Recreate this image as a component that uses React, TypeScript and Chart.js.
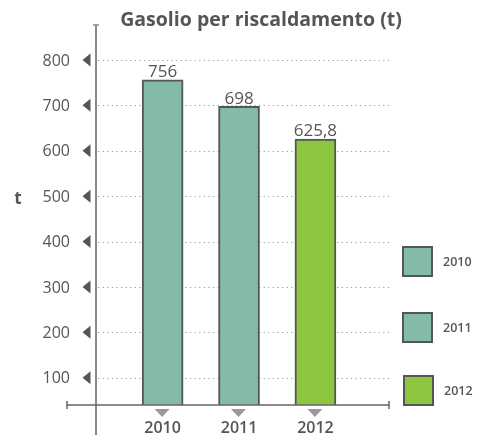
import React, { useEffect, useRef } from "react";
import { Chart, registerables } from "chart.js";

Chart.register(...registerables);

const TITLE = "Gasolio per riscaldamento (t)";
const Y_TITLE = "t";
const YEARS = ["2010", "2011", "2012"];
const VALUES = [756, 698, 625.8];
const VALUE_LABELS = ["756", "698", "625,8"];
const BAR_COLORS = ["#84bba6", "#84bba6", "#8cc63f"];
const Y_TICKS = [100, 200, 300, 400, 500, 600, 700, 800];

const FONT = "'Open Sans', sans-serif";
const TEXT = "#555555";

const decorPlugin = {
  id: "decor",
  beforeDatasetsDraw(chart: any) {
    const { ctx, chartArea, scales } = chart;
    const y = scales.y;
    ctx.save();
    ctx.strokeStyle = "#9a9a9a";
    ctx.lineWidth = 1;
    ctx.setLineDash([1.2, 3.4]);
    for (const t of Y_TICKS) {
      const py = Math.round(y.getPixelForValue(t)) + 0.5;
      ctx.beginPath();
      ctx.moveTo(chartArea.left + 2, py);
      ctx.lineTo(chartArea.right, py);
      ctx.stroke();
    }
    ctx.restore();
  },
  afterDatasetsDraw(chart: any) {
    const { ctx, chartArea, scales } = chart;
    const x = scales.x;
    const y = scales.y;
    ctx.save();
    // y axis line
    ctx.strokeStyle = "#8a8a8a";
    ctx.lineWidth = 2;
    ctx.beginPath();
    ctx.moveTo(chartArea.left, chartArea.top);
    ctx.lineTo(chartArea.left, chart.height);
    ctx.stroke();
    ctx.lineWidth = 1.5;
    ctx.beginPath();
    ctx.moveTo(chartArea.left - 3, chartArea.top);
    ctx.lineTo(chartArea.left + 3, chartArea.top);
    ctx.stroke();
    // x axis line
    const by = y.getPixelForValue(y.min);
    ctx.strokeStyle = "#666666";
    ctx.lineWidth = 1.5;
    ctx.beginPath();
    ctx.moveTo(67, by);
    ctx.lineTo(chartArea.right - 1, by);
    ctx.moveTo(67, by - 4);
    ctx.lineTo(67, by + 4);
    ctx.moveTo(chartArea.right - 1, by - 4);
    ctx.lineTo(chartArea.right - 1, by + 4);
    ctx.stroke();

    // y tick labels and left-pointing triangles
    ctx.fillStyle = TEXT;
    ctx.font = `16px ${FONT}`;
    ctx.textAlign = "right";
    ctx.textBaseline = "middle";
    for (const t of Y_TICKS) {
      const py = y.getPixelForValue(t);
      ctx.fillText(String(t), 70, py + 1);
      ctx.beginPath();
      ctx.moveTo(82.5, py);
      ctx.lineTo(90.5, py - 6.5);
      ctx.lineTo(90.5, py + 6.5);
      ctx.closePath();
      ctx.fill();
    }

    // y title
    ctx.font = `bold 17px ${FONT}`;
    ctx.textAlign = "center";
    ctx.fillText(Y_TITLE, 18, 199);

    // x labels and down triangles
    YEARS.forEach((lab, i) => {
      const px = x.getPixelForValue(i);
      ctx.fillStyle = "#9b97a0";
      ctx.beginPath();
      ctx.moveTo(px - 8, by + 4);
      ctx.lineTo(px + 7, by + 4);
      ctx.lineTo(px - 0.5, by + 12);
      ctx.closePath();
      ctx.fill();
      ctx.fillStyle = TEXT;
      ctx.font = `600 16px ${FONT}`;
      ctx.textAlign = "center";
      ctx.textBaseline = "middle";
      ctx.fillText(lab, px, by + 23);
    });

    // value labels
    const meta = chart.getDatasetMeta(0);
    ctx.font = `17px ${FONT}`;
    ctx.fillStyle = TEXT;
    ctx.textAlign = "center";
    ctx.textBaseline = "bottom";
    meta.data.forEach((bar: any, i: number) => {
      ctx.fillText(VALUE_LABELS[i], bar.x, bar.y + 1);
    });

    // title
    ctx.font = `bold 19.5px ${FONT}`;
    ctx.textBaseline = "middle";
    ctx.fillText(TITLE, 261, 20);

    // legend
    const legendY = [247, 313, 376];
    const legendX = [403, 403, 404];
    YEARS.forEach((lab, i) => {
      ctx.fillStyle = BAR_COLORS[i];
      ctx.strokeStyle = "#555555";
      ctx.lineWidth = 2;
      ctx.fillRect(legendX[i], legendY[i], 29, 29);
      ctx.strokeRect(legendX[i], legendY[i], 29, 29);
      ctx.fillStyle = TEXT;
      ctx.font = `600 12.5px ${FONT}`;
      ctx.textAlign = "left";
      ctx.textBaseline = "middle";
      ctx.fillText(lab, legendX[i] + 40, legendY[i] + 15);
    });
    ctx.restore();
  },
};

export default function App() {
  const ref = useRef<HTMLCanvasElement | null>(null);
  useEffect(() => {
    if (!ref.current) return;
    const chart = new Chart(ref.current, {
      type: "bar",
      data: {
        datasets: [
          {
            data: VALUES.map((v, i) => ({ x: i, y: v })),
            backgroundColor: BAR_COLORS,
            borderColor: "#555555",
            borderWidth: 2,
            borderSkipped: "bottom",
            barThickness: 41,
          },
        ],
      },
      options: {
        responsive: false,
        animation: false,
        layout: { padding: { left: 96, right: 88, top: 25, bottom: 30 } },
        plugins: { legend: { display: false }, tooltip: { enabled: false } },
        scales: {
          x: { type: "linear", offset: false, min: -0.872, max: 2.976, display: false },
          y: { type: "linear", min: 40, max: 877, display: false },
        },
      },
      plugins: [decorPlugin],
    });
    return () => chart.destroy();
  }, []);
  return (
    <div style={{ position: "fixed", left: 0, top: 0, width: 478, height: 435, background: "#fff" }}>
      <canvas ref={ref} width={478} height={435} />
    </div>
  );
}
